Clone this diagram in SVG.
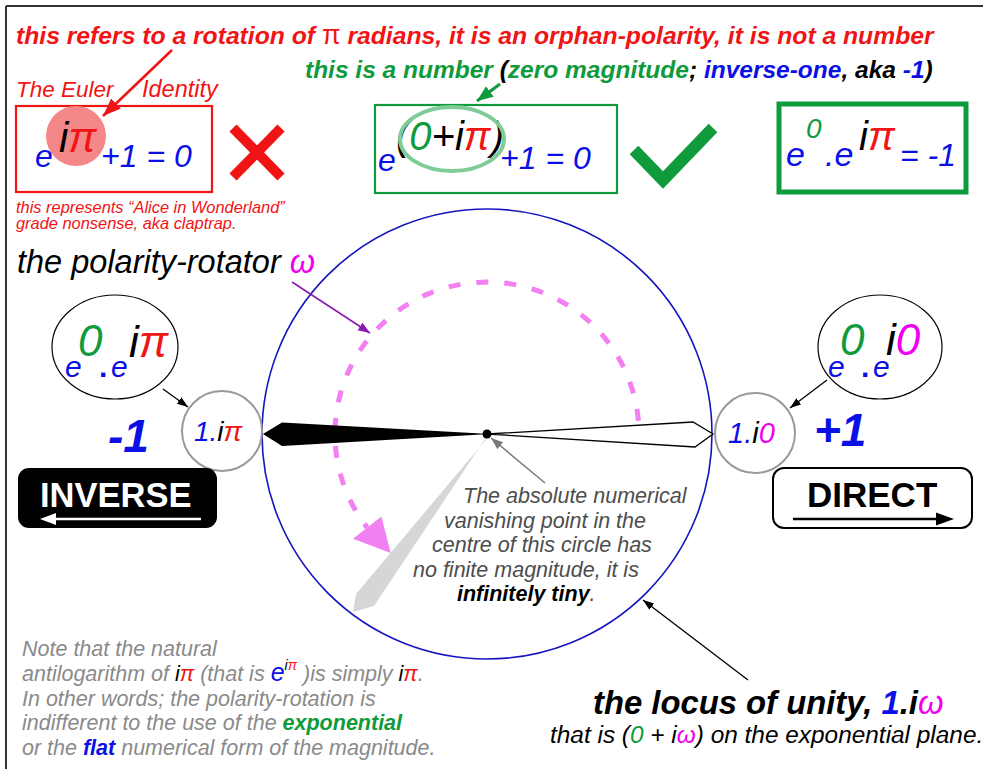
<svg xmlns="http://www.w3.org/2000/svg" width="983" height="769" viewBox="0 0 983 769">
<style>
text{font-family:"Liberation Sans",Arial,sans-serif;}
.bi{font-weight:bold;font-style:italic;}
.it{font-style:italic;}
.red{fill:#f01414;}
.grn{fill:#0f9a3c;}
.blu{fill:#0a10e6;}
.blk{fill:#000;}
.mag{fill:#f000f0;}
.gry{fill:#4d4d4d;}
.note{fill:#8a8a8a;}
.conn{fill:none;}
</style>
<defs>
<marker id="ahBlack" markerUnits="userSpaceOnUse" markerWidth="12" markerHeight="10" refX="11" refY="4" orient="auto"><path d="M0,0 L11,4 L0,8 z" fill="#000"/></marker>
<marker id="ahGray" markerUnits="userSpaceOnUse" markerWidth="14" markerHeight="10" refX="12" refY="4.5" orient="auto"><path d="M0,0 L12,4.5 L0,9 z" fill="#7a7a7a"/></marker>
<marker id="ahPurple" markerUnits="userSpaceOnUse" markerWidth="14" markerHeight="10" refX="12" refY="4.5" orient="auto"><path d="M0,0 L12,4.5 L0,9 z" fill="#8a18b0"/></marker>
<marker id="ahRed" markerUnits="userSpaceOnUse" markerWidth="20" markerHeight="16" refX="18" refY="7" orient="auto"><path d="M0,0 L18,7 L0,14 z" fill="#f01414"/></marker>
<marker id="ahGreen" markerUnits="userSpaceOnUse" markerWidth="18" markerHeight="16" refX="16" refY="6.5" orient="auto"><path d="M0,0 L16,6.5 L0,13 z" fill="#0f9a3c"/></marker>
</defs>
<rect width="983" height="769" fill="#fff"/>
<g id="frame" stroke="#333" stroke-width="2" fill="none">
<line x1="6" y1="6" x2="983" y2="6"/>
<line x1="6" y1="6" x2="6" y2="769"/>
</g>

<g id="headline">
<text x="16" y="44" class="bi red" font-size="24.7">this refers to a rotation of <tspan font-weight="normal" font-style="normal" font-size="27">π</tspan> radians, it is an orphan-polarity, it is not a number</text>
<text x="305" y="78" class="bi" font-size="24.5"><tspan class="grn">this is a number</tspan><tspan class="blk"> (</tspan><tspan class="grn">zero magnitude</tspan><tspan class="blk">; </tspan><tspan class="blu">inverse-one</tspan><tspan class="blk">, aka </tspan><tspan class="blu">-1</tspan><tspan class="blk">)</tspan></text>
</g>

<g id="euler-box">
<text x="16" y="97" class="it red" font-size="22.5">The Euler</text>
<text x="142" y="97" class="it red" font-size="23.5">Identity</text>
<rect x="16" y="106" width="196" height="86" fill="none" stroke="#f01414" stroke-width="2.2"/>
<circle cx="76" cy="136" r="30" fill="#f48888"/>
<text x="35" y="167" class="it blu" font-size="32">e</text>
<text x="59" y="152" class="it" font-size="42"><tspan class="blk">i</tspan><tspan class="red">π</tspan></text>
<text x="101" y="167" class="it blu" font-size="32">+1 = 0</text>
<text x="16" y="213" class="it red" font-size="16.4">this represents “Alice in Wonderland”</text>
<text x="16" y="229" class="it red" font-size="16.4">grade nonsense, aka claptrap.</text>
</g>

<g id="cross" stroke="#f01414" stroke-width="10">
<line x1="233" y1="128" x2="281" y2="177"/>
<line x1="281" y1="128" x2="233" y2="177"/>
</g>

<g id="number-box">
<rect x="375" y="105" width="242" height="88" fill="none" stroke="#0f9a3c" stroke-width="2.2"/>
<text x="378" y="171" class="it blu" font-size="32">e</text>
<text x="396" y="150" class="it" font-size="40"><tspan class="blk">(</tspan><tspan class="grn">0</tspan><tspan class="blk">+i</tspan><tspan class="red">π</tspan><tspan class="blk">)</tspan></text>
<text x="500" y="169" class="it blu" font-size="32">+1 = 0</text>
<ellipse cx="452" cy="139" rx="52" ry="32" fill="none" stroke="#7fcc98" stroke-width="4"/>
</g>

<g id="check">
<polyline points="634,150 663,180 713,128" fill="none" stroke="#0f9a3c" stroke-width="12"/>
</g>

<g id="product-box">
<rect x="779" y="104" width="187" height="88" fill="none" stroke="#0f9a3c" stroke-width="5"/>
<text x="786" y="166" class="it blu" font-size="34">e</text>
<text x="806" y="138" class="it grn" font-size="28">0</text>
<text x="825" y="166" class="it blu" font-size="34">.e</text>
<text x="859" y="150" class="it" font-size="40"><tspan class="blk">i</tspan><tspan class="red">π</tspan></text>
<text x="900" y="166" class="it blu" font-size="32">= -1</text>
</g>

<g id="rotator-label">
<text x="17" y="273" class="it blk" font-size="32.5">the polarity-rotator <tspan class="mag">ω</tspan></text>
</g>

<g id="locus-circle">
<circle cx="487" cy="434" r="225" fill="none" stroke="#1515c0" stroke-width="1.6"/>
<path d="M638.4,420.8 A152,152 0 1 0 367.2,527.6" fill="none" stroke="#f380f3" stroke-width="5" stroke-dasharray="12 16"/>
<polygon points="353,538.7 381.4,516.5 390.7,552.9" fill="#f380f3"/>
<polygon points="489,436 356,594 353,612 374,606 485,439" fill="#d6d6d6"/>
<polygon points="490,434 282,422.5 263,434 282,446" fill="#000"/>
<polygon points="487,434 693,422 713,434 695,447" fill="#fff" stroke="#000" stroke-width="1.3"/>
<circle cx="487" cy="434" r="4.5" fill="#000"/>
<text class="it gry" font-size="21.5">
<tspan x="463" y="503">The absolute numerical</tspan>
<tspan x="444" y="527.5">vanishing point in the</tspan>
<tspan x="432" y="552">centre of this circle has</tspan>
<tspan x="413" y="576.5">no finite magnitude, it is</tspan>
<tspan x="457" y="601"><tspan class="blk" font-weight="bold">infinitely tiny</tspan>.</tspan>
</text>
</g>

<g id="inverse-ellipse">
<ellipse cx="115" cy="347" rx="63" ry="52" fill="#fff" stroke="#000" stroke-width="1.2"/>
<text x="65" y="377" class="it blu" font-size="30">e</text>
<text x="78" y="356" class="it grn" font-size="44">0</text>
<text x="99" y="377" class="blu" font-size="30" font-weight="bold">.</text>
<text x="111" y="377" class="it blu" font-size="30">e</text>
<text x="129" y="357" class="it" font-size="44"><tspan class="blk">i</tspan><tspan class="red">π</tspan></text>
</g>

<g id="direct-ellipse">
<ellipse cx="880" cy="347" rx="62" ry="52" fill="#fff" stroke="#000" stroke-width="1.2"/>
<text x="828" y="377" class="it blu" font-size="30">e</text>
<text x="840" y="355" class="it grn" font-size="44">0</text>
<text x="861" y="377" class="blu" font-size="30" font-weight="bold">.</text>
<text x="873" y="377" class="it blu" font-size="30">e</text>
<text x="886" y="355" class="it" font-size="44"><tspan class="blk">i</tspan><tspan class="mag">0</tspan></text>
</g>

<g id="inverse-point">
<circle cx="222" cy="431" r="40" fill="#fff" stroke="#999" stroke-width="2"/>
<text x="194" y="441" class="it" font-size="28"><tspan class="blu">1.</tspan><tspan class="blk">i</tspan><tspan class="red">π</tspan></text>
<text x="108" y="452" class="bi blu" font-size="46">-1</text>
</g>

<g id="direct-point">
<circle cx="755" cy="433" r="40" fill="#fff" stroke="#999" stroke-width="2"/>
<text x="728" y="443" class="it" font-size="29"><tspan class="blu">1.</tspan><tspan class="blk">i</tspan><tspan class="mag">0</tspan></text>
<text x="814" y="446" class="bi blu" font-size="46">+1</text>
</g>

<g id="inverse-sign">
<rect x="18" y="468" width="199" height="60" rx="11" fill="#000"/>
<text x="40" y="507" fill="#fff" font-weight="bold" font-size="34.5">INVERSE</text>
<line x1="201" y1="519" x2="52" y2="519" stroke="#fff" stroke-width="2.5"/>
<polygon points="40,519 56,513 56,525" fill="#fff"/>
</g>

<g id="direct-sign">
<rect x="773" y="468" width="199" height="60" rx="11" fill="#fff" stroke="#000" stroke-width="2"/>
<text x="807" y="507" fill="#000" font-weight="bold" font-size="35">DIRECT</text>
<line x1="793" y1="519" x2="940" y2="519" stroke="#000" stroke-width="2.5"/>
<polygon points="954,519 936,512.5 936,525.5" fill="#000"/>
</g>

<g id="note">
<text class="it note" font-size="21.5">
<tspan x="22" y="656">Note that the natural</tspan>
<tspan x="22" y="681">antilogarithm of <tspan class="blk">i</tspan><tspan class="red">π</tspan> (that is <tspan class="blu" font-size="25">e</tspan><tspan font-size="14" dy="-11"><tspan class="blk">i</tspan><tspan class="red">π</tspan></tspan><tspan dy="11"> )is simply </tspan><tspan class="blk">i</tspan><tspan class="red">π</tspan>.</tspan>
<tspan x="22" y="705.5">In other words; the polarity-rotation is</tspan>
<tspan x="22" y="730">indifferent to the use of the <tspan class="grn" font-weight="bold">exponential</tspan></tspan>
<tspan x="22" y="755">or the <tspan class="blu" font-weight="bold">flat</tspan> numerical form of the magnitude.</tspan>
</text>
</g>

<g id="locus-label">
<text x="593" y="714" class="bi blk" font-size="32.8">the locus of unity, <tspan class="blu">1</tspan>.i<tspan class="mag" font-weight="normal">ω</tspan></text>
<text x="550" y="743" class="it blk" font-size="24.4">that is (<tspan class="grn">0</tspan> + i<tspan class="mag">ω</tspan>) on the exponential plane.</text>
</g>

<g id="connectors" class="conn">
<line x1="172" y1="50" x2="103" y2="116" stroke="#f01414" stroke-width="2.5" marker-end="url(#ahRed)"/>
<line x1="500" y1="84" x2="477" y2="101" stroke="#0f9a3c" stroke-width="3" marker-end="url(#ahGreen)"/>
<line x1="292" y1="282" x2="370" y2="333" stroke="#8a18b0" stroke-width="1.5" marker-end="url(#ahPurple)"/>
<line x1="163" y1="389" x2="188" y2="407" stroke="#000" stroke-width="1.3" marker-end="url(#ahBlack)"/>
<line x1="827" y1="380" x2="790" y2="408" stroke="#000" stroke-width="1.3" marker-end="url(#ahBlack)"/>
<line x1="545" y1="483" x2="491" y2="438" stroke="#7a7a7a" stroke-width="1.5" marker-end="url(#ahGray)"/>
<line x1="748" y1="680" x2="643" y2="600" stroke="#000" stroke-width="1.3" marker-end="url(#ahBlack)"/>
</g>
</svg>
